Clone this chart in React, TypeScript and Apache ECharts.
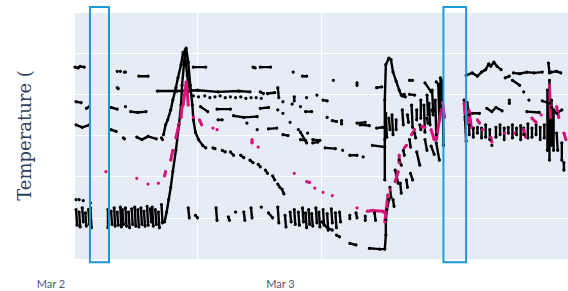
import React, { useEffect, useRef } from 'react';
import * as echarts from 'echarts';

type P = [number, number] | null;
const N = null;

// x: minutes since start of window, y: temperature
const xTickLabels = ['Mar 2', 'Mar 3'];
const yTitle = 'Temperature (';
const highlightWindows: [number, number][] = [[15.5, 34], [359, 381]];
const windowTemp: [number, number] = [-0.4, 30.6];

const sensorA: P[] = [
  [2,6.0],[3,4.1],N,[5,5.7],[6,3.9],N,[8,6.2],[9,4.5],N,[11,5.6],[12,4.0],N,[14,6.0],[15,4.2],N,
  [16,6.2],[17,3.8],N,[33,6.0],[33,3.8],N,[36,5.8],[37,4.2],N,[39,6.2],[40,4.0],N,[42,5.7],[43,4.1],N,
  [45,6.3],[46,3.9],N,[47,6.0],[48,4.2],N,[50,6.2],[51,4.0],N,[53,5.7],[54,3.8],N,[56,6.1],[57,4.2],N,
  [59,6.3],[60,4.0],N,[62,6.0],[63,3.9],N,[65,6.2],[66,4.2],N,[68,5.8],[69,4.0],N,[71,6.4],[72,4.1],N,
  [74,6.1],[75,4.5],N,[76,6.3],[77,4.0],N,[79,6.0],[80,4.2],N,[82,5.7],[83,3.8],N,[85,6.6],[86,4.4],N,
  [88,4.5],[90,5.7],[92,7.2],[94,8.7],[96,10.6],[99,13.2],[102,16.3],[104,18.7],[105,21.1],[107,23.9],
  [108,25.4],[109,25.6],[111,23.9],[113,21.1],[115,18.7],[116,16.9],[118,15.4],[121,14.5],[125,13.8],[128,13.5],N,
  [135,13.5],[137,13.4],N,[144,13.2],[147,13.0],N,[152,13.0],[155,12.6],N,[162,12.6],[165,12.3],N,
  [171,12.0],[174,11.7],N,[179,11.5],[181,11.2],N,[186,10.8],[188,10.4],N,[193,10.1],[195,9.6],N,
  [198,9.1],[200,8.7],N,[202,8.5],[204,7.9]
];

const sensorB: P[] = [
  [2,16.3],[8,16.0],[15,16.3],N,[36,15.7],[41,15.5],N,[48,14.7],[49,14.6],N,
  [61,14.8],[66,14.5],[72,14.9],[80,14.6],N,[85,14.7],[86,14.5],N,
  [87,15.1],[89,16.3],[91,16.9],[94,18.1],[96,19.3],[99,20.8],[101,22.0],[104,23.6],[106,25.1],
  [108,24.7],[110,22.3],[112,20.4],N
];

const sensorC: P[] = [
  [1,23.3],[4,23.2],[6,23.4],[10,23.3],N,[42,22.8],N,[45,22.8],N,[49,22.7],[50,22.7],N,
  [63,22.2],[72,22.2],N,[116,23.3],[128,23.3],N,[174,23.3],[176,23.2],N,[181,23.3],[191,23.3],N,
  [213,22.7],N,[222,22.2],[226,22.2],N,[252,21.7],N,[275,21.4],[275,21.1],N
];

const sensorD: P[] = [
  [2,19.1],[7,19.0],N,[12,18.3],[15,18.5],N,[36,18.4],[42,18.2],N,[42,20.8],[43,20.7],N,[50,18.5],N,
  [55,17.9],[62,17.8],[70,17.9],N,[123,18.5],[130,17.9],N,[139,18.2],[152,18.2],N,[140,16.9],[144,16.9],N,
  [155,17.4],[165,17.2],[178,17.3],N,[168,16.5],N,[178,15.7],N,[181,18.3],[189,18.4],N,[189,15.8],[197,15.9],N,
  [198,18.1],N,[203,17.7],N,[203,15.1],[208,15.0],N,[210,16.6],N,[218,15.7],N,[220,15.4],[226,14.1],N,
  [220,14.5],[225,14.4],N,[225,17.9],[231,17.9],N,[227,15.3],N,[232,14.1],[237,14.2],N,[232,14.5],[239,14.4],N,
  [242,19.3],[246,19.2],N,[244,13.5],[254,13.4],N,[246,17.2],N,[251,16.8],[255,16.7],N,[260,16.8],[260,16.4],N,
  [261,13.2],N,[268,12.6],[275,12.6],N,[275,16.5],[283,16.6],N,[281,12.4],N,[290,13.8],[302,13.6],N
];

const sensorE: P[] = [
  [81,20.4],[100,20.4],[120,20.5],[140,20.3],[160,20.4],[171,20.3],N,
  [116,19.8],N,[121,19.7],N,[127,19.8],N,[132,19.6],N,[137,19.7],N,[142,19.8],N,[147,19.6],N,[152,19.7],N,
  [157,19.6],N,[162,19.7],N,[167,19.5],N,[172,19.6],N,[177,19.6],N,[182,19.5],N,
  [181,20.3],[184,20.1],N,[188,20.1],[195,20.2],N,[198,20.8],[199,19.6],N,[203,19.1],N,[212,18.8],N,
  [214,19.7],[214,19.2],N,[220,18.5],N,[226,19.6],N,[236,19.9],N
];

const sensorF: P[] = [
  [2,7.2],N,[5,7.2],N,[9,7.1],N,[16,6.8],N,
  [111,6.2],[112,5.0],N,[118,5.3],[120,5.0],N,[138,6.2],[139,4.7],N,[150,5.1],[151,4.7],N,[157,5.7],N,
  [165,5.7],[166,4.7],N,[172,6.2],[173,5.0],N,[182,6.3],N,[189,5.6],[193,5.0],N,[198,6.3],[199,4.4],N,
  [205,5.3],[206,3.9],N,[210,5.7],[211,4.5],N,[214,6.0],[215,4.2],N,[218,5.7],[219,4.1],N,[222,6.2],[223,4.5],N,
  [225,5.6],[226,3.8],N,[228,6.0],[229,4.2],N,[231,5.5],[232,4.0],N,[235,6.2],[236,4.4],N,[238,5.7],[239,3.9],N,
  [242,6.0],[243,4.1],N,[246,5.5],[247,3.5],N,[250,6.1],[251,4.4],N,[254,5.6],[255,3.8],N,[258,5.7],[259,4.5],N,
  [268,5.3],[268,4.9],N,[274,5.6],[275,5.0],N,[283,5.2],[283,4.7],N,[292,5.6],[293,4.7],N,
  [302,9.6],[302,14.5],[302,19.3],[303,23.6],[306,24.4],[308,24.2],[310,22.7],[313,21.6],[316,20.5],[318,19.9],[321,20.0],N,
  [326,20.0],[331,19.9],N
];

const sensorG: P[] = [
  [241,4.5],[246,3.8],[251,3.5],N,[255,2.9],[258,2.7],N,[268,1.9],[274,1.7],N,
  [287,1.3],[297,1.2],[302,1.2],[303,2.9],[303,4.7],[304,6.0],[306,7.2],N,
  [307,8.7],[308,7.5],N,[312,10.8],[315,9.2],N,[316,12.0],[318,11.4],N,[320,13.2],[321,12.6],N,
  [326,14.5],[327,13.6],N,[331,15.3],[332,14.7],N,[336,16.3],[337,15.7],N,[343,17.1],[344,16.5],N,
  [348,18.1],[349,17.5],N,[355,19.3],[356,18.6],N
];

const sensorH: P[] = [
  [310,7.2],[311,6.4],N,[317,9.2],[318,8.0],N,[323,9.6],[324,8.7],N,[327,10.4],[329,9.6],N,
  [333,13.0],[336,11.4],N,[341,14.5],[343,13.2],N,[347,13.7],[350,12.7],N,[352,14.1],[355,12.0],N
];

const sensorI: P[] = [
  [278,16.3],[287,16.2],N,[294,15.9],[300,16.0],N,[303,17.7],[304,14.8],N,[306,17.1],[307,15.7],N,
  [309,17.5],[310,15.1],N,[313,16.9],[313,15.7],N,[319,18.1],[320,16.3],N,[324,17.5],[325,16.6],N,
  [328,18.7],[329,16.0],N,[333,18.1],[333,16.9],N,[337,19.3],[337,17.1],N,[340,18.7],[341,15.4],N,
  [343,19.9],[344,17.5],N,[345,18.9],[346,16.3],N,[348,20.5],[349,17.9],N,[351,19.3],[352,15.1],N,
  [354,21.1],[355,16.9],N,[356,22.0],[357,18.1],N,[358,21.7],[359,13.8],N,
  [294,20.8],[299,20.9],N,[319,19.8],[322,19.7],N,[326,21.7],[329,21.7],N,[341,21.4],[347,20.3],N,[352,21.5],[356,21.0],N,
  [380,16.9],[381,14.3],N,[384,16.3],[384,15.1],N,[388,15.9],[388,14.8],N,[392,16.0],[392,15.3],N,
  [396,15.9],[396,14.7],N,[400,16.3],[400,14.8],N,[404,15.7],[404,14.5],N,[406,13.8],N,
  [410,16.0],[410,14.8],N,[414,16.3],[414,15.1],N,[418,15.9],[418,14.5],N,[422,16.0],[422,15.3],N,
  [426,16.3],[426,14.7],N,[430,15.9],[430,15.1],N,[434,16.2],[434,14.5],N,[437,15.9],[437,15.1],N,
  [441,16.4],[441,14.7],N,[445,15.9],[445,14.8],N,[449,16.3],[449,15.1],N,[453,16.0],[453,14.5],N,
  [457,16.3],[457,14.7],N,[460,20.5],[460,13.2],N,[462,21.7],[462,12.0],N,[464,19.3],[464,13.8],N,
  [466,18.1],[466,13.2],N,[469,15.3],[470,13.2],N,[474,14.1],[474,12.0],N,[476,11.7],[476,10.8],N
];

const sensorJ: P[] = [
  [381,22.3],[387,22.6],[392,22.2],[396,22.7],[400,23.0],[403,23.7],[405,23.4],[408,23.9],[411,23.4],[415,23.0],N,
  [419,22.0],[423,22.2],N,[427,22.6],[433,22.5],[440,22.7],[447,22.6],[455,22.7],N,
  [461,23.8],[462,22.6],[464,22.7],[469,22.8],[473,22.6],N,
  [426,21.7],[433,21.1],N,[437,20.3],N,[442,19.3],N,
  [379,19.3],[380,17.2],[382,19.0],[384,17.5],N,[387,17.7],[394,17.7],N,
  [401,18.3],[406,17.9],[410,18.4],[416,18.0],N,[423,19.3],[423,18.9],N,[440,17.9],[452,17.8],N,
  [455,19.2],[462,18.9],N,[464,18.4],[469,17.7],[474,18.1],N
];

const magenta: P[] = [
  [31,10.6],N,[61,9.8],N,[72,9.1],N,[82,9.2],N,[88,10.1],[89,10.6],N,[94,12.0],[96,13.2],N,
  [99,14.7],[102,16.4],N,[104,17.2],[105,18.5],N,[106,18.7],[108,20.5],[109,21.5],[110,20.5],[111,18.7],N,
  [116,17.2],N,[122,16.9],[124,16.3],N,[135,15.9],N,[139,15.7],N,[173,14.5],[173,14.1],N,[179,13.6],N,
  [214,10.4],N,[226,9.4],[229,9.3],N,[234,8.6],N,[242,8.1],N,[251,7.7],N,[275,6.2],N,
  [285,5.8],[290,5.9],[300,5.8],[302,5.6],N,[302,4.5],[305,7.8],N,[307,8.4],N,[312,9.4],[315,10.6],N,
  [316,11.7],[316,12.6],N,[321,13.5],[323,13.8],N,[328,15.1],[331,15.7],N,[338,16.1],[341,16.0],N,
  [347,15.7],[350,14.5],N,[352,14.5],[355,16.9],[357,18.1],N,[358,19.0],[360,17.2],N,
  [379,18.9],[382,16.5],[384,18.0],[386,16.0],N,[392,16.9],[394,16.5],N,[397,15.7],N,
  [405,14.8],[406,14.2],N,[418,15.3],N,[428,15.3],N,[437,15.7],[439,14.8],N,[445,17.1],[449,16.6],N,
  [454,17.5],N,[462,21.1],[463,17.2],N,[469,18.5],[471,17.2],N,[476,15.3],[478,14.5]
];

const blackSensors = [sensorA, sensorB, sensorC, sensorD, sensorE, sensorF, sensorG, sensorH, sensorI, sensorJ];

export default function App() {
  const ref = useRef<HTMLDivElement>(null);
  useEffect(() => {
    const chart = echarts.init(ref.current!, null, { renderer: 'svg' });
    const lineBase = (data: P[], color: string, width: number) => ({
      type: 'line',
      xAxisIndex: 0,
      yAxisIndex: 0,
      data,
      connectNulls: false,
      showSymbol: true,
      symbol: 'circle',
      symbolSize: 3.2,
      itemStyle: { color },
      lineStyle: { color, width },
      emphasis: { disabled: true },
      silent: true,
    });
    const series: any[] = blackSensors.map((d) => lineBase(d, '#000000', 2.4));
    series.push(lineBase(magenta, '#d8127a', 3));
    chart.setOption({
      animation: false,
      backgroundColor: '#ffffff',
      grid: [
        { left: 74, right: -3, top: 12, bottom: 32, show: true, backgroundColor: '#E5ECF6', borderWidth: 0 },
        { left: 51, width: 229.5, top: 262, height: 10, show: false },
      ],
      xAxis: [
        {
          type: 'value', gridIndex: 0, min: 0, max: 480, interval: 120,
          axisLine: { show: false }, axisTick: { show: false }, axisLabel: { show: false },
          splitLine: { show: true, lineStyle: { color: '#ffffff', width: 1 } },
        },
        {
          type: 'category', gridIndex: 1, data: xTickLabels, boundaryGap: false,
          axisLine: { show: false }, axisTick: { show: false }, splitLine: { show: false },
          axisLabel: { color: '#4a5a78', fontSize: 11, fontFamily: 'Lato', margin: 6 },
        },
      ],
      yAxis: [
        {
          type: 'value', gridIndex: 0, min: 0, max: 30, interval: 5,
          axisLine: { show: false }, axisTick: { show: false }, axisLabel: { show: false },
          splitLine: { show: true, lineStyle: { color: '#ffffff', width: 1 } },
          name: yTitle, nameLocation: 'middle', nameGap: 41, nameRotate: 90,
          nameTextStyle: { fontFamily: 'DejaVu Serif', fontSize: 18, color: '#2a3f5f' },
        },
        { type: 'value', gridIndex: 1, show: false },
      ],
      series,
    });
    // highlight windows positioned through the chart's own scales
    const rects = highlightWindows.map(([a, b]) => {
      const p0 = chart.convertToPixel({ gridIndex: 0 }, [a, windowTemp[1]]) as number[];
      const p1 = chart.convertToPixel({ gridIndex: 0 }, [b, windowTemp[0]]) as number[];
      return {
        type: 'rect',
        z: 100,
        silent: true,
        shape: { x: p0[0], y: p0[1], width: p1[0] - p0[0], height: p1[1] - p0[1] },
        style: { fill: 'none', stroke: '#1a9bd6', lineWidth: 2 },
      };
    });
    chart.setOption({ graphic: rects });
    return () => chart.dispose();
  }, []);
  return <div ref={ref} style={{ position: 'fixed', left: 0, top: 0, width: 568, height: 291 }} />;
}
